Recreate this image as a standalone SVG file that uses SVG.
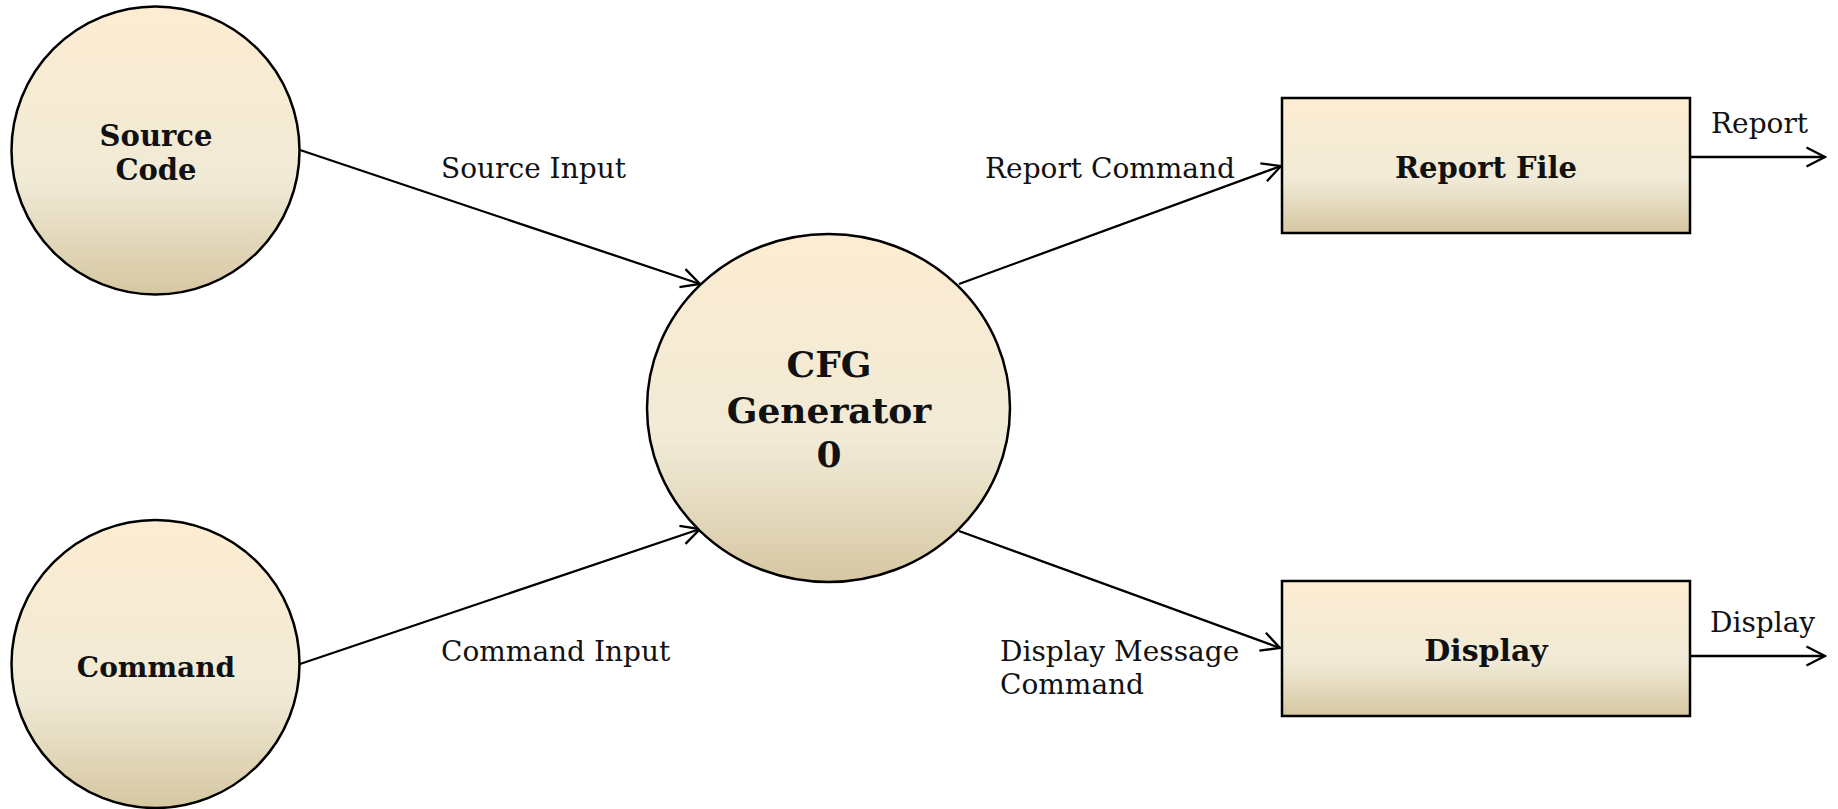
<svg xmlns="http://www.w3.org/2000/svg" width="1838" height="809" viewBox="0 0 1838 809">
<defs>
<linearGradient id="g" x1="0" y1="0" x2="0" y2="1">
<stop offset="0" stop-color="#fdecd1"/>
<stop offset="0.6" stop-color="#f0ead6"/>
<stop offset="1" stop-color="#d6c7a2"/>
</linearGradient>
<marker id="arr" viewBox="0 0 22 22" refX="20" refY="11" markerWidth="22" markerHeight="22" markerUnits="userSpaceOnUse" orient="auto">
<path d="M1.5,1.5 L20,11 L1.5,20.5" fill="none" stroke="#000" stroke-width="2.3"/>
</marker>
</defs>
<style>
.n{fill:url(#g);stroke:#000;stroke-width:2.5}
.t{font-family:"DejaVu Serif",serif;font-weight:bold;fill:#111;text-anchor:middle}
.l{font-family:"DejaVu Serif",serif;font-size:28px;fill:#111}
.c{stroke:#000;stroke-width:2.3;fill:none;marker-end:url(#arr)}
</style>
<rect width="1838" height="809" fill="#fff"/>
<g id="connectors">
<line class="c" x1="300" y1="150" x2="700" y2="284"/>
<line class="c" x1="300" y1="664" x2="700" y2="529"/>
<line class="c" x1="959" y1="284" x2="1281" y2="166"/>
<line class="c" x1="959" y1="531" x2="1280" y2="648"/>
<line class="c" x1="1690" y1="157" x2="1825" y2="157"/>
<line class="c" x1="1690" y1="656" x2="1825" y2="656"/>
<text class="l" x="441" y="178">Source Input</text>
<text class="l" x="441" y="661">Command Input</text>
<text class="l" x="985" y="178">Report Command</text>
<text class="l" x="1000" y="661">Display Message</text>
<text class="l" x="1000" y="694">Command</text>
<text class="l" x="1711" y="133">Report</text>
<text class="l" x="1710" y="632">Display</text>
</g>
<g id="source-code">
<circle class="n" cx="155.5" cy="150.5" r="144"/>
<text class="t" x="156" y="146" font-size="29">Source</text>
<text class="t" x="156" y="180" font-size="29">Code</text>
</g>
<g id="command">
<circle class="n" cx="155.5" cy="664" r="144"/>
<text class="t" x="156" y="677" font-size="28">Command</text>
</g>
<g id="cfg-generator">
<ellipse class="n" cx="828.5" cy="408" rx="181.5" ry="174"/>
<text class="t" x="829" y="377" font-size="36">CFG</text>
<text class="t" x="829" y="423" font-size="36">Generator</text>
<text class="t" x="829" y="467" font-size="36">0</text>
</g>
<g id="report-file">
<rect class="n" x="1282" y="98" width="408" height="135"/>
<text class="t" x="1486" y="178" font-size="29">Report File</text>
</g>
<g id="display">
<rect class="n" x="1282" y="581" width="408" height="135"/>
<text class="t" x="1486" y="661" font-size="30">Display</text>
</g>
</svg>
